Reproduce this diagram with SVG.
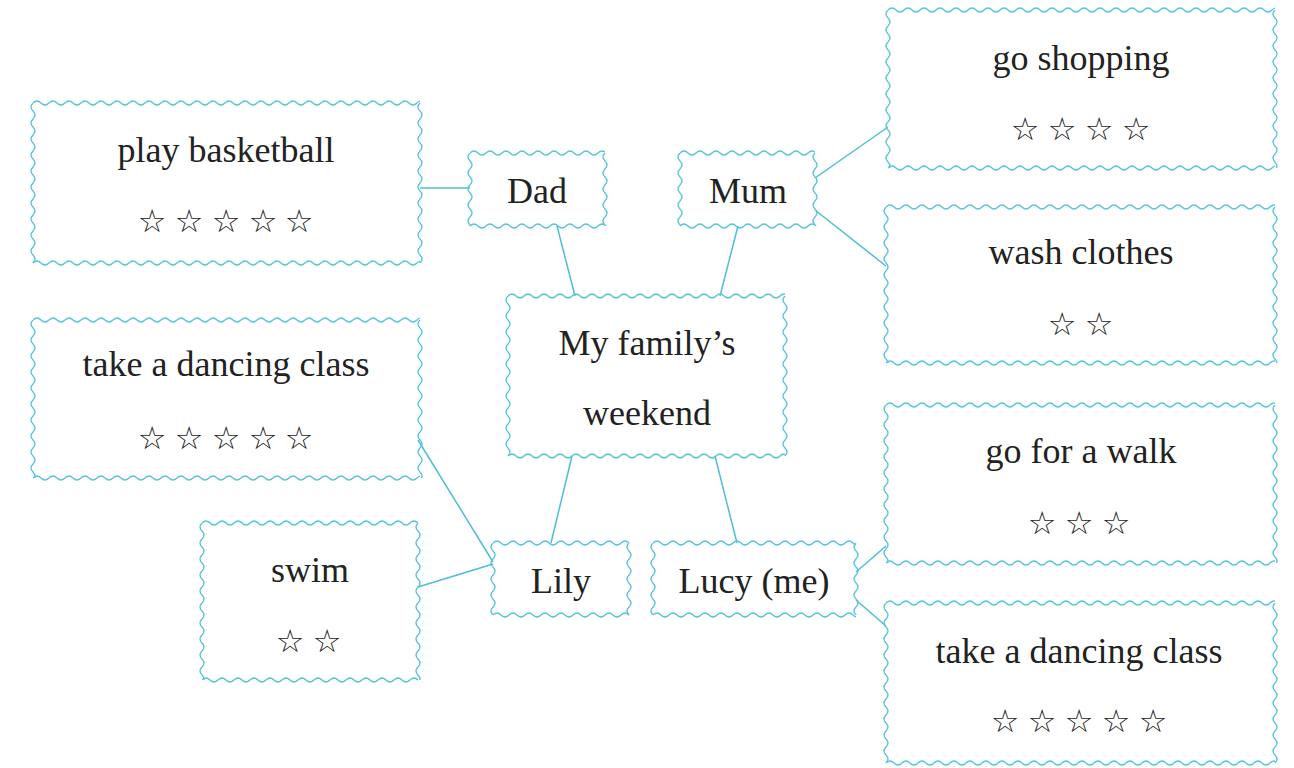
<svg xmlns="http://www.w3.org/2000/svg" xmlns:xlink="http://www.w3.org/1999/xlink" width="1294" height="768" viewBox="0 0 1294 768">
<style>
.w{fill:none;stroke:#56c3df;stroke-width:1.3}
.c{fill:none;stroke:#4fbcd9;stroke-width:1.5}
.t{font-family:"Liberation Serif","Times New Roman",serif;font-size:36px;fill:#222;text-anchor:middle}
.s{font-family:"DejaVu Sans",sans-serif;font-size:32px;fill:#222;text-anchor:middle}
</style>
<defs>
<path id="wh" class="w" d="M0 4q4-4 8 0t8 0t8 0t8 0t8 0t8 0t8 0t8 0t8 0t8 0t8 0t8 0t8 0t8 0t8 0t8 0t8 0t8 0t8 0t8 0t8 0t8 0t8 0t8 0t8 0t8 0t8 0t8 0t8 0t8 0t8 0t8 0t8 0t8 0t8 0t8 0t8 0t8 0t8 0t8 0t8 0t8 0t8 0t8 0t8 0t8 0t8 0t8 0t8 0t8 0t8 0t8 0t8 0"/>
<path id="wv" class="w" d="M4 0q-4 4 0 8t0 8t0 8t0 8t0 8t0 8t0 8t0 8t0 8t0 8t0 8t0 8t0 8t0 8t0 8t0 8t0 8t0 8t0 8t0 8t0 8t0 8t0 8"/>
</defs>
<rect width="1294" height="768" fill="#fff"/>

<g id="connectors">
<line class="c" x1="420" y1="188" x2="470" y2="188"/>
<line class="c" x1="557" y1="226" x2="575" y2="296"/>
<line class="c" x1="738" y1="226" x2="720" y2="296"/>
<line class="c" x1="815" y1="178" x2="888" y2="127"/>
<line class="c" x1="815" y1="210" x2="886" y2="266"/>
<line class="c" x1="572" y1="456" x2="551" y2="543"/>
<line class="c" x1="715" y1="456" x2="737" y2="543"/>
<line class="c" x1="418" y1="440" x2="493" y2="562"/>
<line class="c" x1="418" y1="587" x2="493" y2="564"/>
<line class="c" x1="856" y1="572" x2="886" y2="546"/>
<line class="c" x1="856" y1="600" x2="886" y2="626"/>
</g>

<g id="play-basketball">
<svg x="33" y="99" width="387" height="8"><use xlink:href="#wh"/></svg>
<svg x="33" y="259" width="387" height="8"><use xlink:href="#wh"/></svg>
<svg x="29" y="103" width="8" height="160"><use xlink:href="#wv"/></svg>
<svg x="416" y="103" width="8" height="160"><use xlink:href="#wv"/></svg>
<text class="t" x="226" y="162">play basketball</text>
<text class="s" x="152 189 226 263 299" y="232">☆☆☆☆☆</text>
</g>

<g id="dad">
<svg x="470" y="149" width="135" height="8"><use xlink:href="#wh"/></svg>
<svg x="470" y="222" width="135" height="8"><use xlink:href="#wh"/></svg>
<svg x="466" y="153" width="8" height="73"><use xlink:href="#wv"/></svg>
<svg x="601" y="153" width="8" height="73"><use xlink:href="#wv"/></svg>
<text class="t" x="537" y="203">Dad</text>
</g>

<g id="mum">
<svg x="680" y="149" width="135" height="8"><use xlink:href="#wh"/></svg>
<svg x="680" y="222" width="135" height="8"><use xlink:href="#wh"/></svg>
<svg x="676" y="153" width="8" height="73"><use xlink:href="#wv"/></svg>
<svg x="811" y="153" width="8" height="73"><use xlink:href="#wv"/></svg>
<text class="t" x="748" y="203">Mum</text>
</g>

<g id="go-shopping">
<svg x="888" y="6" width="387" height="8"><use xlink:href="#wh"/></svg>
<svg x="888" y="164" width="387" height="8"><use xlink:href="#wh"/></svg>
<svg x="884" y="10" width="8" height="158"><use xlink:href="#wv"/></svg>
<svg x="1271" y="10" width="8" height="158"><use xlink:href="#wv"/></svg>
<text class="t" x="1081" y="70">go shopping</text>
<text class="s" x="1025 1062 1099 1136" y="140">☆☆☆☆</text>
</g>

<g id="wash-clothes">
<svg x="886" y="203" width="389" height="8"><use xlink:href="#wh"/></svg>
<svg x="886" y="359" width="389" height="8"><use xlink:href="#wh"/></svg>
<svg x="882" y="207" width="8" height="156"><use xlink:href="#wv"/></svg>
<svg x="1271" y="207" width="8" height="156"><use xlink:href="#wv"/></svg>
<text class="t" x="1081" y="264">wash clothes</text>
<text class="s" x="1062 1099" y="335">☆☆</text>
</g>

<g id="my-familys-weekend">
<svg x="508" y="292" width="277" height="8"><use xlink:href="#wh"/></svg>
<svg x="508" y="452" width="277" height="8"><use xlink:href="#wh"/></svg>
<svg x="504" y="296" width="8" height="160"><use xlink:href="#wv"/></svg>
<svg x="781" y="296" width="8" height="160"><use xlink:href="#wv"/></svg>
<text class="t" x="647" y="355">My family’s</text>
<text class="t" x="647" y="425">weekend</text>
</g>

<g id="take-dancing-class-lily">
<svg x="33" y="316" width="387" height="8"><use xlink:href="#wh"/></svg>
<svg x="33" y="474" width="387" height="8"><use xlink:href="#wh"/></svg>
<svg x="29" y="320" width="8" height="158"><use xlink:href="#wv"/></svg>
<svg x="416" y="320" width="8" height="158"><use xlink:href="#wv"/></svg>
<text class="t" x="226" y="376">take a dancing class</text>
<text class="s" x="152 189 226 263 299" y="449">☆☆☆☆☆</text>
</g>

<g id="swim">
<svg x="202" y="519" width="216" height="8"><use xlink:href="#wh"/></svg>
<svg x="202" y="676" width="216" height="8"><use xlink:href="#wh"/></svg>
<svg x="198" y="523" width="8" height="157"><use xlink:href="#wv"/></svg>
<svg x="414" y="523" width="8" height="157"><use xlink:href="#wv"/></svg>
<text class="t" x="310" y="582">swim</text>
<text class="s" x="290 327" y="652">☆☆</text>
</g>

<g id="lily">
<svg x="493" y="539" width="136" height="8"><use xlink:href="#wh"/></svg>
<svg x="493" y="611" width="136" height="8"><use xlink:href="#wh"/></svg>
<svg x="489" y="543" width="8" height="72"><use xlink:href="#wv"/></svg>
<svg x="625" y="543" width="8" height="72"><use xlink:href="#wv"/></svg>
<text class="t" x="561" y="593">Lily</text>
</g>

<g id="lucy">
<svg x="653" y="539" width="203" height="8"><use xlink:href="#wh"/></svg>
<svg x="653" y="611" width="203" height="8"><use xlink:href="#wh"/></svg>
<svg x="649" y="543" width="8" height="72"><use xlink:href="#wv"/></svg>
<svg x="852" y="543" width="8" height="72"><use xlink:href="#wv"/></svg>
<text class="t" x="754" y="593">Lucy (me)</text>
</g>

<g id="go-for-a-walk">
<svg x="886" y="401" width="389" height="8"><use xlink:href="#wh"/></svg>
<svg x="886" y="559" width="389" height="8"><use xlink:href="#wh"/></svg>
<svg x="882" y="405" width="8" height="158"><use xlink:href="#wv"/></svg>
<svg x="1271" y="405" width="8" height="158"><use xlink:href="#wv"/></svg>
<text class="t" x="1081" y="463">go for a walk</text>
<text class="s" x="1042 1079 1116" y="534">☆☆☆</text>
</g>

<g id="take-dancing-class-lucy">
<svg x="886" y="599" width="389" height="8"><use xlink:href="#wh"/></svg>
<svg x="886" y="759" width="389" height="8"><use xlink:href="#wh"/></svg>
<svg x="882" y="603" width="8" height="160"><use xlink:href="#wv"/></svg>
<svg x="1271" y="603" width="8" height="160"><use xlink:href="#wv"/></svg>
<text class="t" x="1079" y="663">take a dancing class</text>
<text class="s" x="1005 1042 1079 1116 1153" y="732">☆☆☆☆☆</text>
</g>
</svg>
